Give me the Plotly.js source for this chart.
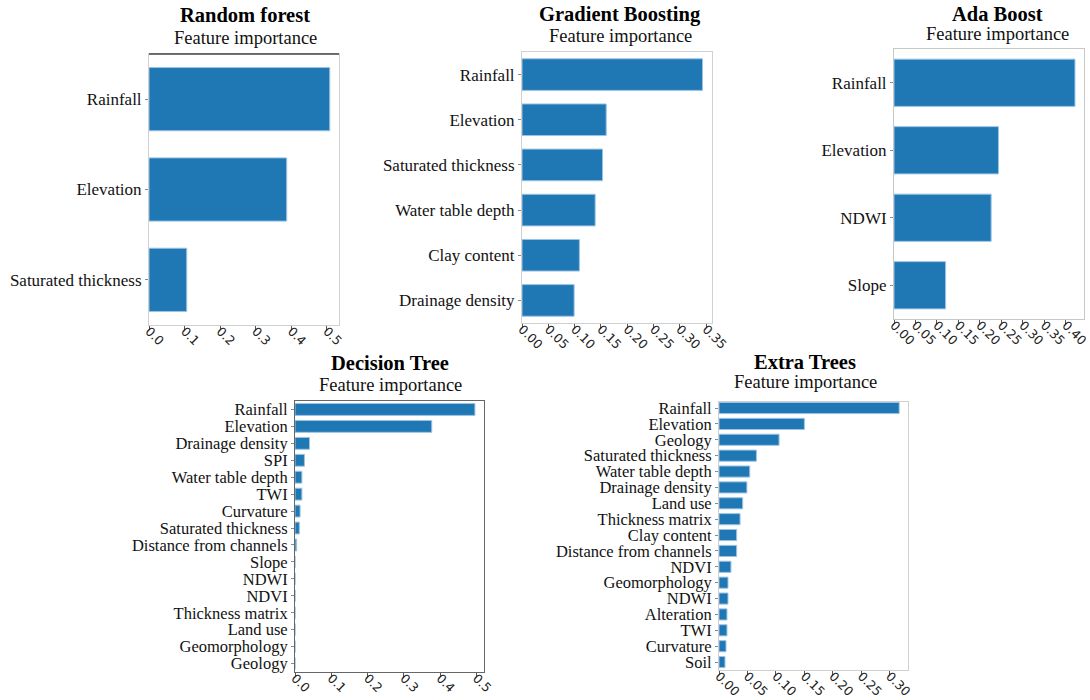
<!DOCTYPE html>
<html><head><meta charset="utf-8">
<script src="https://cdn.plot.ly/plotly-3.0.1.min.js"></script>
<style>body{margin:0;background:#fff}#chart{width:1090px;height:700px}</style>
</head><body><div id="chart"></div>
<script>
// ---- data ----
const rfFeatures = ["Rainfall","Elevation","Saturated thickness"];
const rfValues = [0.508, 0.387, 0.106];

const gbFeatures = ["Rainfall","Elevation","Saturated thickness","Water table depth","Clay content","Drainage density"];
const gbValues = [0.343, 0.160, 0.153, 0.139, 0.109, 0.099];

const abFeatures = ["Rainfall","Elevation","NDWI","Slope"];
const abValues = [0.421, 0.243, 0.226, 0.120];

const dtFeatures = ["Rainfall","Elevation","Drainage density","SPI","Water table depth","TWI","Curvature","Saturated thickness","Distance from channels","Slope","NDWI","NDVI","Thickness matrix","Land use","Geomorphology","Geology"];
const dtValues = [0.496, 0.377, 0.040, 0.026, 0.019, 0.019, 0.014, 0.012, 0.0045, 0, 0, 0, 0, 0, 0, 0];

const etFeatures = ["Rainfall","Elevation","Geology","Saturated thickness","Water table depth","Drainage density","Land use","Thickness matrix","Clay content","Distance from channels","NDVI","Geomorphology","NDWI","Alteration","TWI","Curvature","Soil"];
const etValues = [0.3165, 0.150, 0.1055, 0.0657, 0.054, 0.049, 0.0416, 0.037, 0.031, 0.031, 0.021, 0.0158, 0.0158, 0.014, 0.014, 0.0123, 0.0105];

const modelTitles = ["Random forest","Gradient Boosting","Ada Boost","Decision Tree","Extra Trees"];
const subTitle = "Feature importance";

// ---- layout geometry (pixels) ----
const W = 1090, H = 700;
const panels = [
  {f: rfFeatures, v: rfValues, px:[149,339], py:[54,325], xr:[0,0.534], yr:[2.5,-0.5], dt:0.1, fmt:".1f", frame:"#d0d0d0", lblSize:17, tx:245, ty1:15, ty2:38},
  {f: gbFeatures, v: gbValues, px:[522,712], py:[52,323], xr:[0,0.361], yr:[5.5,-0.5], dt:0.05, fmt:".2f", frame:"#d0d0d0", lblSize:17, tx:620, ty1:14, ty2:36},
  {f: abFeatures, v: abValues, px:[894,1084], py:[49,319], xr:[0,0.442], yr:[3.5,-0.5], dt:0.05, fmt:".2f", frame:"#c8c8c8", lblSize:17, tx:997, ty1:14, ty2:34},
  {f: dtFeatures, v: dtValues, px:[295,484], py:[401,672], xr:[0,0.521], yr:[15.5,-0.5], dt:0.1, fmt:".1f", frame:"#666666", lblSize:16.5, tx:390, ty1:363, ty2:385},
  {f: etFeatures, v: etValues, px:[719,908], py:[402,670], xr:[0,0.332], yr:[16.5,-0.38], dt:0.05, fmt:".2f", frame:"#d0d0d0", lblSize:16.5, tx:805, ty1:362, ty2:382}
];

const data = [];
const layout = {
  width: W, height: H,
  margin: {l:0, r:0, t:0, b:0},
  paper_bgcolor: "#fff", plot_bgcolor: "#fff",
  showlegend: false,
  annotations: [],
  shapes: []
};

panels.forEach((p, i) => {
  const n = i === 0 ? "" : String(i + 1);
  data.push({
    type: "bar", orientation: "h",
    x: p.v, y: p.f,
    xaxis: "x" + n, yaxis: "y" + n,
    marker: {color: "#1f77b4", line: {color: "#9cc3e4", width: 1}},
    width: 0.7,
    hoverinfo: "x+y"
  });
  layout["xaxis" + n] = {
    domain: [p.px[0] / W, p.px[1] / W],
    anchor: "y" + n,
    range: p.xr,
    dtick: p.dt, tick0: 0, tickformat: p.fmt,
    tickangle: 45,
    ticks: "outside", ticklen: 4, tickcolor: "#555",
    ticklabelstandoff: -11,
    ticklabeloverflow: "allow",
    showgrid: false, zeroline: false,
    showline: true, linecolor: p.frame, linewidth: 1, mirror: true,
    tickfont: {family: "DejaVu Sans", size: 12.5, color: "#222"}
  };
  layout["yaxis" + n] = {
    domain: [1 - p.py[1] / H, 1 - p.py[0] / H],
    anchor: "x" + n,
    type: "category",
    range: p.yr,
    tickmode: "array", tickvals: p.f, ticktext: p.f,
    ticks: "outside", ticklen: 3, tickcolor: "#888",
    showgrid: false, zeroline: false,
    showline: true, linecolor: p.frame, linewidth: 1, mirror: true,
    tickfont: {family: "Liberation Serif", size: p.lblSize, color: "#111"}
  };
  layout.annotations.push({
    xref: "paper", yref: "paper", x: p.tx / W, y: 1 - p.ty1 / H,
    xanchor: "center", yanchor: "middle", showarrow: false,
    text: "<b>" + modelTitles[i] + "</b>",
    font: {family: "Liberation Serif", size: 20.5, color: "#000"}
  });
  layout.annotations.push({
    xref: "paper", yref: "paper", x: p.tx / W, y: 1 - p.ty2 / H,
    xanchor: "center", yanchor: "middle", showarrow: false,
    text: subTitle,
    font: {family: "Liberation Serif", size: 18.5, color: "#111"}
  });
});

// dark top rule on the Random forest panel
layout.shapes.push({type: "line", xref: "x domain", yref: "y domain", x0: 0, x1: 1, y0: 1, y1: 1, line: {color: "#444", width: 1.5}});

Plotly.newPlot("chart", data, layout, {displayModeBar: false, staticPlot: true});
</script>
</body></html>
